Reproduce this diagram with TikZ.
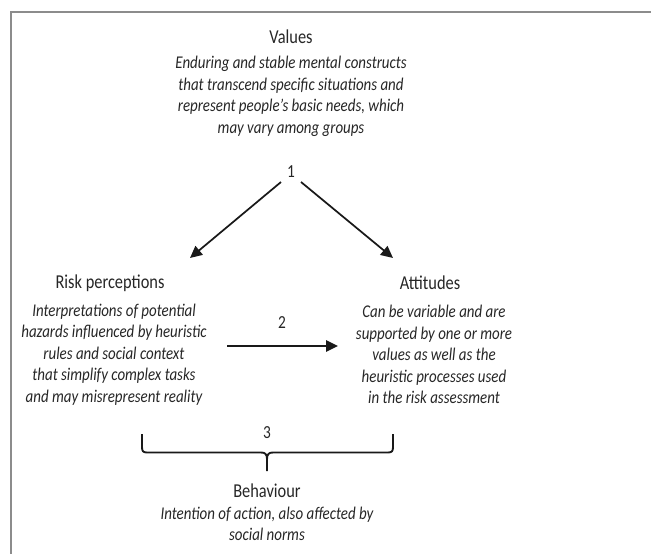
\documentclass[tikz,border=0pt]{standalone}
\usepackage{fontspec}
\setmainfont{Carlito}
\usetikzlibrary{arrows.meta}
\newcommand{\vs}[1]{\scalebox{1}[1.2]{#1}}
\begin{document}
\begin{tikzpicture}[x=0.75pt,y=-0.75pt,
  head/.style={font=\fontsize{12.3}{15}\selectfont, text=black!85, inner sep=0pt},
  desc/.style={font=\fontsize{11.2}{16.1}\selectfont\itshape, text=black!85, align=center, inner sep=0pt},
  num/.style={font=\fontsize{11.5}{12}\selectfont, text=black!85, inner sep=0pt},
  conn/.style={line width=1.3pt, draw=black!90, -{Triangle[length=9pt,width=8.5pt]}},
  frame/.style={line width=1.5pt, draw=black!45}]
\useasboundingbox (0,0) rectangle (651,554);
\draw[frame] (11,554) -- (11,12) -- (651,12);

\node[head] (values) at (291,37) {\vs{Values}};
\node[desc] (valtxt) at (291,96.5) {\vs{Enduring and stable mental constructs}\\\vs{that transcend specific situations and}\\\vs{represent people’s basic needs, which}\\\vs{may vary among groups}};
\node[num] (one) at (291,172) {\vs{1}};

\node[head] (risk) at (110,283) {\vs{Risk perceptions}};
\node[desc] (risktxt) at (114,354.5) {\vs{Interpretations of potential}\\\vs{hazards influenced by heuristic}\\\vs{rules and social context}\\\vs{that simplify complex tasks}\\\vs{and may misrepresent reality}};

\node[head] (att) at (430,283) {\vs{Attitudes}};
\node[desc] (atttxt) at (434,354.5) {\vs{Can be variable and are}\\\vs{supported by one or more}\\\vs{values as well as the}\\\vs{heuristic processes used}\\\vs{in the risk assessment}};

\node[num] (two) at (282,323) {\vs{2}};
\node[num] (three) at (267,433) {\vs{3}};

\node[head] (beh) at (267,491) {\vs{Behaviour}};
\node[desc] (behtxt) at (267,524) {\vs{Intention of action, also affected by}\\\vs{social norms}};

\coordinate (a1s) at (281,182);
\coordinate (a1e) at (190,258);
\coordinate (a2s) at (301,182);
\coordinate (a2e) at (393,258);
\coordinate (a3s) at (227,346);
\coordinate (a3e) at (338,346);
\draw[conn] (a1s) -- (a1e);
\draw[conn] (a2s) -- (a2e);
\draw[conn] (a3s) -- (a3e);

\coordinate (bl) at (142,434);
\coordinate (br) at (393,434);
\coordinate (bm) at (267,471);
\draw[line width=1.4pt, draw=black!90, line join=round]
  (bl) -- (142,447) .. controls (142,451) and (143,452.5) .. (147,452.5)
  -- (261,452.5) .. controls (265,452.5) and (267,454) .. (267,459) -- (bm);
\draw[line width=1.4pt, draw=black!90, line join=round]
  (br) -- (393,447) .. controls (393,451) and (392,452.5) .. (388,452.5)
  -- (273,452.5) .. controls (269,452.5) and (267,454) .. (267,459);
\end{tikzpicture}
\end{document}
